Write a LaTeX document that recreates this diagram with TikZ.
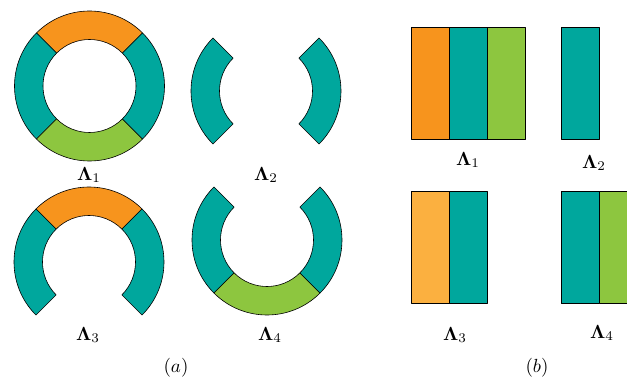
\documentclass[tikz,border=0pt]{standalone}
\usepackage{amsmath,bm}
\definecolor{segorange}{HTML}{F7941D}
\definecolor{segteal}{HTML}{00A79D}
\definecolor{seggreen}{HTML}{8DC63F}
\definecolor{seglight}{HTML}{FBB040}
\tikzset{
  seg/.style={draw=black, line width=0.6pt, line join=round},
  lab/.style={inner sep=0pt, scale=1.9},
}
\newcommand\ringseg[4]{% colour, centre, start angle, end angle
  \filldraw[seg, fill=#1] ([shift={(#3:75pt)}]#2) arc[start angle=#3, end angle=#4, radius=75pt]
    -- ([shift={(#4:46.5pt)}]#2) arc[start angle=#4, end angle=#3, radius=46.5pt] -- cycle;}
\begin{document}
\begin{tikzpicture}[x=1pt,y=1pt]
\path[use as bounding box, clip] (0,0) rectangle (627,383);
% centres
\coordinate (c1) at (89.5,297);
\coordinate (c2) at (266,292);
\coordinate (c3) at (89,121);
\coordinate (c4) at (267,143);
% (a) ring 1
\ringseg{segorange}{c1}{45}{135}
\ringseg{segteal}{c1}{135}{225}
\ringseg{seggreen}{c1}{225}{315}
\ringseg{segteal}{c1}{-45}{45}
% ring 2
\ringseg{segteal}{c2}{135}{225}
\ringseg{segteal}{c2}{-45}{45}
% ring 3
\ringseg{segorange}{c3}{45}{135}
\ringseg{segteal}{c3}{135}{225}
\ringseg{segteal}{c3}{-45}{45}
% ring 4
\ringseg{segteal}{c4}{135}{225}
\ringseg{seggreen}{c4}{225}{315}
\ringseg{segteal}{c4}{-45}{45}
% labels (a)
\node[lab] (la1) at (89,208) {$\bm{\Lambda}_1$};
\node[lab] (la2) at (266,208) {$\bm{\Lambda}_2$};
\node[lab] (la3) at (88,48) {$\bm{\Lambda}_3$};
\node[lab] (la4) at (270,48) {$\bm{\Lambda}_4$};
\node[lab] (capa) at (176,15) {$(a)$};
% (b) rectangles
\filldraw[seg, fill=segorange] (411,243.7) rectangle (449,355.7);
\filldraw[seg, fill=segteal] (449,243.7) rectangle (487,355.7);
\filldraw[seg, fill=seggreen] (487,243.7) rectangle (525,355.7);
\filldraw[seg, fill=segteal] (561,243.7) rectangle (599,355.7);
\filldraw[seg, fill=seglight] (411.5,79.3) rectangle (449.5,192);
\filldraw[seg, fill=segteal] (449.5,79.3) rectangle (487,192);
\filldraw[seg, fill=segteal] (561,79.3) rectangle (599,192);
\filldraw[seg, fill=seggreen] (599,79.3) rectangle (637,192);
% labels (b)
\node[lab] (lb1) at (468,223) {$\bm{\Lambda}_1$};
\node[lab] (lb2) at (594,220) {$\bm{\Lambda}_2$};
\node[lab] (lb3) at (455,48) {$\bm{\Lambda}_3$};
\node[lab] (lb4) at (602,50) {$\bm{\Lambda}_4$};
\node[lab] (capb) at (537,15) {$(b)$};
\end{tikzpicture}
\end{document}
